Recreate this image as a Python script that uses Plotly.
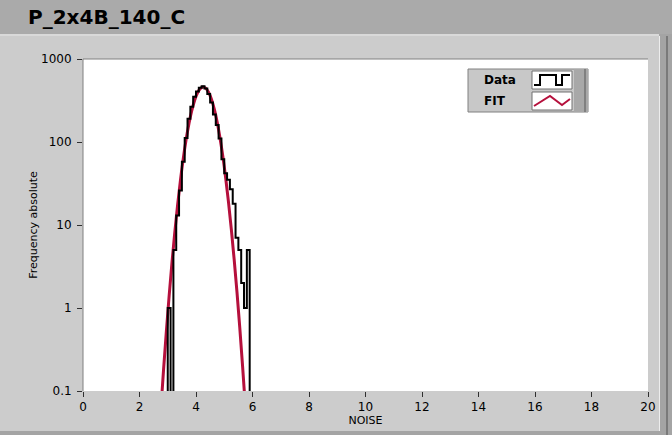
import plotly.graph_objects as go

# ---------------- data ----------------
title_text = "P_2x4B_140_C"
bin_edges = [3.0, 3.1, 3.2, 3.3, 3.4, 3.5, 3.6, 3.7, 3.8, 3.9, 4.0, 4.1, 4.2, 4.3, 4.4,
             4.5, 4.6, 4.7, 4.8, 4.9, 5.0, 5.1, 5.2, 5.3, 5.4, 5.5, 5.6, 5.7, 5.8, 5.9]
counts = [1, 0, 5, 13, 26, 58, 112, 190, 265, 350, 405, 450, 470, 440, 380,
          300, 215, 160, 110, 62, 42, 35, 27, 18, 7, 5, 2, 1, 5]
fit_x = [2.75, 2.85, 2.95, 3.05, 3.15, 3.25, 3.35, 3.45, 3.55, 3.65, 3.75, 3.85, 3.95,
         4.05, 4.15, 4.25, 4.35, 4.45, 4.55, 4.65, 4.75, 4.85, 4.95, 5.05, 5.15, 5.25,
         5.35, 5.45, 5.55, 5.65, 5.75]
fit_y = [0.0554, 0.177, 0.520, 1.41, 3.55, 8.23, 17.6, 34.8, 63.5, 107, 166.5, 239, 317,
         389, 440, 460, 444, 395, 325, 247, 173, 112, 67.1, 37.1, 18.9, 8.91,
         3.87, 1.56, 0.577, 0.197, 0.0625]
x_ticks = [0, 2, 4, 6, 8, 10, 12, 14, 16, 18, 20]
y_ticks = [0.1, 1, 10, 100, 1000]
y_ticktext = ["0.1", "1", "10", "100", "1000"]
legend_names = ["Data", "FIT"]

# ---------------- geometry helpers ----------------
W, H = 672, 435
L, R, T, B = 83, 648, 59, 391
def px(x):
    return (x - L) / (R - L)
def py(y):
    return (B - y) / (B - T)

DATA_COLOR = "#000000"
FIT_COLOR = "#B5103C"
FLOOR = 1e-4

# step trace for histogram
step_x = [bin_edges[0]] + list(bin_edges)
step_y = [FLOOR] + [c if c > 0 else FLOOR for c in counts] + [FLOOR]

fig = go.Figure()
fig.add_trace(go.Scatter(x=fit_x, y=fit_y, mode="lines", name=legend_names[1],
                         line=dict(color=FIT_COLOR, width=3, shape="spline"),
                         showlegend=False, hoverinfo="skip"))
fig.add_trace(go.Scatter(x=step_x, y=step_y, mode="lines", name=legend_names[0],
                         line=dict(color=DATA_COLOR, width=2, shape="hv"),
                         showlegend=False, hoverinfo="skip"))

shapes = []
# title bar
shapes.append(dict(type="rect", xref="paper", yref="paper", x0=px(0), x1=px(W),
                   y0=py(0), y1=py(34), fillcolor="#AAAAAA", line_width=0, layer="below"))
shapes.append(dict(type="line", xref="paper", yref="paper", x0=px(0), x1=px(659),
                   y0=py(35), y1=py(35), line=dict(color="#E6E6E6", width=1)))
# right strip
shapes.append(dict(type="rect", xref="paper", yref="paper", x0=px(659), x1=px(W),
                   y0=py(34), y1=py(H), fillcolor="#A4A4A4", line_width=0, layer="below"))
shapes.append(dict(type="line", xref="paper", yref="paper", x0=px(659.5), x1=px(659.5),
                   y0=py(36), y1=py(431), line=dict(color="#EDEDED", width=1)))
shapes.append(dict(type="line", xref="paper", yref="paper", x0=px(667), x1=px(667),
                   y0=py(36), y1=py(H), line=dict(color="#7A7A7A", width=2)))
# bottom strip
shapes.append(dict(type="rect", xref="paper", yref="paper", x0=px(0), x1=px(659),
                   y0=py(431), y1=py(H), fillcolor="#A4A4A4", line_width=0, layer="below"))
# plot frame (top & left)
shapes.append(dict(type="line", xref="paper", yref="paper", x0=0, x1=1,
                   y0=1, y1=1, line=dict(color="#808080", width=1)))
shapes.append(dict(type="line", xref="paper", yref="paper", x0=0, x1=0,
                   y0=0, y1=1, line=dict(color="#808080", width=1)))

# legend box
shapes.append(dict(type="rect", xref="paper", yref="paper", x0=px(468), x1=px(588),
                   y0=py(112), y1=py(69), fillcolor="#C8C8C8",
                   line=dict(color="#808080", width=1)))
shapes.append(dict(type="rect", xref="paper", yref="paper", x0=px(574), x1=px(588),
                   y0=py(112), y1=py(69), fillcolor="#A8A8A8", line_width=0))
shapes.append(dict(type="line", xref="paper", yref="paper", x0=px(585), x1=px(585),
                   y0=py(112), y1=py(69), line=dict(color="#808080", width=2)))
for (y0, y1) in [(71, 89), (92, 110)]:
    shapes.append(dict(type="rect", xref="paper", yref="paper", x0=px(532), x1=px(572),
                       y0=py(y1), y1=py(y0), fillcolor="#FFFFFF",
                       line=dict(color="#707070", width=1)))
# legend swatch: data step
sx = [534, 540, 540, 556, 556, 562, 562, 570]
sy = [85, 85, 75, 75, 85, 85, 75, 75]
path = "M " + " L ".join(f"{px(a):.5f},{py(b):.5f}" for a, b in zip(sx, sy))
shapes.append(dict(type="path", xref="paper", yref="paper", path=path,
                   line=dict(color=DATA_COLOR, width=2)))
# legend swatch: fit zigzag
zx = [534, 550, 562, 570]
zy = [106, 96, 105, 99]
path = "M " + " L ".join(f"{px(a):.5f},{py(b):.5f}" for a, b in zip(zx, zy))
shapes.append(dict(type="path", xref="paper", yref="paper", path=path,
                   line=dict(color=FIT_COLOR, width=2)))

annotations = [
    dict(text=title_text, xref="paper", yref="paper", x=px(26), y=py(17),
         xanchor="left", yanchor="middle", showarrow=False,
         font=dict(family="DejaVu Sans", size=20, color="#000000", weight="bold")),
    dict(text=legend_names[0], xref="paper", yref="paper", x=px(482), y=py(80),
         xanchor="left", yanchor="middle", showarrow=False,
         font=dict(family="DejaVu Sans", size=12, color="#000000", weight="bold")),
    dict(text=legend_names[1], xref="paper", yref="paper", x=px(482), y=py(101),
         xanchor="left", yanchor="middle", showarrow=False,
         font=dict(family="DejaVu Sans", size=12, color="#000000", weight="bold")),
]

fig.update_layout(
    width=W, height=H, autosize=False,
    margin=dict(l=L, r=W - R, t=T, b=H - B, pad=0, autoexpand=False),
    paper_bgcolor="#CCCCCC", plot_bgcolor="#FFFFFF",
    shapes=shapes, annotations=annotations,
    font=dict(family="DejaVu Sans", size=12, color="#000000"),
    xaxis=dict(range=[0, 20], tickvals=x_ticks, ticks="outside", ticklen=5,
               tickcolor="#303030", showgrid=False, zeroline=False, showline=False,
               automargin=False, ticklabelstandoff=0,
               tickfont=dict(family="DejaVu Sans", size=12, color="#000000"),
               title=dict(text="NOISE", standoff=2,
                          font=dict(family="DejaVu Sans", size=11, color="#000000"))),
    yaxis=dict(type="log", range=[-1, 3], tickvals=y_ticks, ticktext=y_ticktext,
               ticks="outside", ticklen=5, tickcolor="#303030", showgrid=False,
               zeroline=False, showline=False, automargin=False, ticklabelstandoff=3,
               tickfont=dict(family="DejaVu Sans", size=12, color="#000000"),
               title=dict(text="Frequency absolute", standoff=1,
                          font=dict(family="DejaVu Sans", size=11, color="#000000"))),
    showlegend=False,
    hovermode=False,
)

fig.write_html("out.html", config={"displayModeBar": False},
               post_script="document.body.style.margin='0';document.body.style.overflow='hidden';")
